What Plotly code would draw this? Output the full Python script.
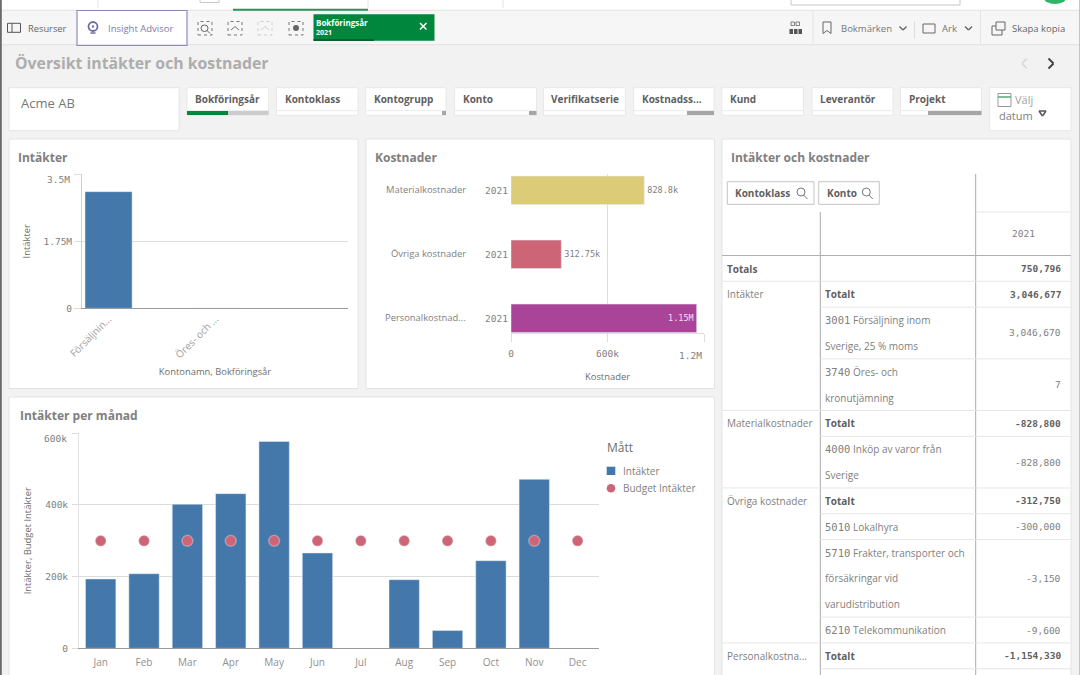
import plotly.graph_objects as go

# Chart values
income_accounts = ["Försäljnin...", "Öres- och ..."]
income_values = [3046670, 7]
income_ticks = [0, 1750000, 3500000]
income_tick_labels = ["0", "1.75M", "3.5M"]

cost_groups = ["Materialkostnader", "Övriga kostnader", "Personalkostnad..."]
cost_years = ["2021", "2021", "2021"]
cost_values = [828800, 312750, 1154330]
cost_labels = ["828.8k", "312.75k", "1.15M"]
cost_ticks = [0, 600000, 1200000]
cost_tick_labels = ["0", "600k", "1.2M"]

months = ["Jan", "Feb", "Mar", "Apr", "May", "Jun", "Jul", "Aug", "Sep", "Oct", "Nov", "Dec"]
month_income = [193500, 208000, 402000, 431500, 577000, 266000, None, 191500, 49500, 244500, 471500, None]
month_budget = [300000] * 12
month_ticks = [0, 200000, 400000, 600000]
month_tick_labels = ["0", "200k", "400k", "600k"]

# Pivot table rows: class, account text (one entry per wrapped line), value
table_class = ["Totals", "Intäkter", "", "", "Materialkostnader", "", "Övriga kostnader", "", "", "",
               "Personalkostna..."]
table_account = [[""], ["Totalt"], ["3001 Försäljning inom", "Sverige, 25 % moms"],
                 ["3740 Öres- och", "kronutjämning"], ["Totalt"],
                 ["4000 Inköp av varor från", "Sverige"], ["Totalt"], ["5010 Lokalhyra"],
                 ["5710 Frakter, transporter och", "försäkringar vid", "varudistribution"],
                 ["6210 Telekommunikation"], ["Totalt"]]
table_value = ["750,796", "3,046,677", "3,046,670", "7", "-828,800", "-828,800", "-312,750",
               "-300,000", "-3,150", "-9,600", "-1,154,330"]

filter_names = ["Bokföringsår", "Kontoklass", "Kontogrupp", "Konto", "Verifikatserie", "Kostnadss...",
                "Kund", "Leverantör", "Projekt"]

BLUE = "#4477aa"
PINK = "#cc6677"
cost_colors = ["#ddcc77", PINK, "#aa4499"]
GREEN = "#00873d"
SANS = "Open Sans"
MONO = "DejaVu Sans Mono"
TEXT = "#808080"
DARK = "#5f5f5f"
GRID = "#dcdcdc"


def X(x):
    return x / 1080


def Y(y):
    return 1 - y / 675


shapes = []
notes = []


def box(x0, y0, x1, y1, fill="white", line=None, width=1, kind="rect"):
    shapes.append(dict(type=kind, xref="paper", yref="paper", layer="below", x0=X(x0), x1=X(x1), y0=Y(y0), y1=Y(y1),
                       fillcolor=fill, line=dict(color=line, width=width if line else 0)))


def seg(x0, y0, x1, y1, color=GRID, width=1, dash="solid"):
    shapes.append(dict(type="line", xref="paper", yref="paper", layer="below", x0=X(x0), x1=X(x1), y0=Y(y0), y1=Y(y1),
                       line=dict(color=color, width=width, dash=dash)))


def poly(points, color=DARK, width=1.5):
    for a, b in zip(points, points[1:]):
        seg(a[0], a[1], b[0], b[1], color, width)


def label(x, y, s, size=10, color=TEXT, family=SANS, anchor="left", bold=False):
    # left aligned text lands about a pixel too far right otherwise
    x = x - 1 if anchor == "left" else x
    notes.append(dict(xref="paper", yref="paper", x=X(x), y=Y(y), text=f"<b>{s}</b>" if bold else s, showarrow=False,
                      xanchor=anchor, yanchor="middle", borderpad=0, font=dict(family=family, size=size, color=color)))


# Page chrome
box(0, 0, 1080, 10.3, line=None)
seg(0, 10.3, 1080, 10.3, "#d8d8d8")
box(2, 10.5, 1080, 44.7, "#f6f6f6")
seg(0, 44.7, 1080, 44.7, "#e2e2e2")
seg(233, 9.7, 368, 9.7, "#2f8f5b", 2)
for x in [98, 368, 503]:
    seg(x, 0, x, 8, "#e4e4e4")
box(200, -2, 219, 2.5, "white", "#c8c8c8")
box(791, -2, 960, 5, "white", "#c8c8c8")
box(1044, -8, 1066, 4, "#2fb567", kind="circle")
box(0, 0, 1.8, 675, "#6a6a6a")
seg(1079.5, 0, 1079.5, 675, "#c4c4c4")

# Toolbar left
box(7.5, 23.3, 20.5, 32.3, "#f6f6f6", "#555555")
seg(12, 23.3, 12, 32.3, "#555555")
label(28, 28.3, "Resurser", 9.3, "#666666")
box(77, 10.5, 187, 45.3, "white", "#8e8cbc", 1.2)
box(88.5, 22, 97.5, 31, "white", "#6f6da8", 1.8, kind="circle")
box(91.8, 25.3, 94.2, 27.7, "#6f6da8", kind="circle")
seg(90.5, 33, 95.5, 33, "#6f6da8", 1.5)
label(108, 28.3, "Insight Advisor", 9.5, "#7d7bab")
for x, c in [(205, "#777777"), (235, "#777777"), (265, "#cfcfcf"), (296, "#777777")]:
    shapes.append(dict(type="rect", xref="paper", yref="paper", layer="below", x0=X(x - 7), x1=X(x + 7), y0=Y(35),
                       y1=Y(21.5), line=dict(color=c, width=1, dash="3px,3px")))
box(201, 25, 208, 31.5, "#f6f6f6", "#666666", 1, kind="circle")
poly([(207, 30.5), (210, 33.5)], "#666666", 1)
poly([(231, 30), (235, 26.5), (239, 30)], "#777777", 1)
poly([(261, 30), (265, 26.5), (269, 30)], "#cfcfcf", 1)
box(293, 25, 299, 31, "#666666", kind="circle")

# Current selection chip
box(313.5, 14.3, 434.5, 40.7, GREEN)
seg(313.5, 40, 374, 40, "#0d5f30", 2)
label(316, 22.7, "Bokföringsår", 8, "white", bold=True)
label(316, 32, "2021", 7, "white", bold=True)
poly([(420, 23), (426.5, 29.5)], "white", 1.5)
poly([(426.5, 23), (420, 29.5)], "white", 1.5)

# Toolbar right
seg(813, 10.5, 813, 44.7, "#e4e4e4")
seg(914.5, 21, 914.5, 39, "#dddddd")
seg(980.5, 10.5, 980.5, 44.7, "#e4e4e4")
for x in [791, 796]:
    box(x, 22, x + 3.5, 25.5, "#f6f6f6", "#666666", 0.8)
for x in [789.5, 794, 798.5]:
    box(x, 29, x + 3.5, 34, "#555555")
poly([(823, 22), (823, 33.5), (827, 30.5), (831, 33.5), (831, 22), (823, 22)], "#666666", 1)
label(841, 28.3, "Bokmärken", 9.5, "#777777")
poly([(899.5, 26.5), (903, 30), (906.5, 26.5)], "#666666", 1.4)
box(923, 24, 935, 33, "#f6f6f6", "#666666")
label(942, 28.3, "Ark", 9.5, "#777777")
poly([(965, 26.5), (968.5, 30), (972, 26.5)], "#666666", 1.4)
box(992, 26, 1002, 35, "#f6f6f6", "#666666")
box(996, 22, 1005, 30, "#f6f6f6", "#666666")
label(1012, 28.3, "Skapa kopia", 9.5, "#666666")

# Sheet title and arrows
label(15, 63.3, "Översikt intäkter och kostnader", 15.8, "#adadad", bold=True)
poly([(1027, 58.5), (1022, 63.5), (1027, 68.5)], "#d8d8d8", 1.6)
poly([(1048.5, 58.5), (1053.5, 63.5), (1048.5, 68.5)], "#444444", 2)

# Filter row
box(9, 87.7, 179, 130.7, "white", "#e4e4e4")
label(21, 103.3, "Acme AB", 13, "#777777")
filter_left = [187, 276.5, 365.7, 454.5, 543.4, 633.7, 721.8, 812, 900.5]
filter_right = [268.6, 358, 446, 536.5, 625.4, 714, 803.4, 893, 981.5]
filter_grey = [187, 358, 442, 529, 625.4, 687, 803.4, 893, 928]
for name, left, right, grey in zip(filter_names, filter_left, filter_right, filter_grey):
    box(left, 87.7, right, 115.3, "white", "#e8e8e8")
    seg(left, 110.7, right, 110.7, "#ececec")
    label(left + 8, 99, name, 10, DARK, bold=True)
    if grey < right:
        box(grey, 111, right, 115, "#a6a6a6" if name != "Bokföringsår" else "#cccccc")
box(187, 111, 228, 115, GREEN)
box(989.7, 87.7, 1071, 130.7, "white", "#e8e8e8")
box(998, 93.5, 1011, 106.5, "white", "#999999")
seg(998, 97, 1011, 97, "#5aa47c", 1.5)
label(1014.5, 99.3, "Välj", 11, "#a0a0a0")
label(998.5, 115.7, "datum", 11, TEXT)
poly([(1039, 111), (1046, 111), (1042.5, 116), (1039, 111)], "#555555", 1.5)

# Object cards
box(9, 139, 358, 388.5, "white", "#e4e4e4")
box(366, 139, 714.5, 388.5, "white", "#e4e4e4")
box(722, 139, 1071, 690, "white", "#e4e4e4")
box(9, 397, 714.5, 700, "white", "#e4e4e4")
label(18, 157, "Intäkter", 12, TEXT, bold=True)
label(375, 157, "Kostnader", 12, TEXT, bold=True)
label(731, 157, "Intäkter och kostnader", 12, TEXT, bold=True)
label(19.5, 415.5, "Intäkter per månad", 12, TEXT, bold=True)

# Pivot table
COL1, COL2 = 820.3, 975.7
TABLE_LINE = "#a9a9a9"
seg(COL1, 212, COL1, 675, TABLE_LINE)
seg(COL2, 174, COL2, 675, TABLE_LINE)
seg(COL2, 212, 1071, 212, "#e6e6e6")
seg(722, 255.5, 1071, 255.5, "#b0b0b0")
label(1023, 233.7, "2021", 9.5, TEXT, MONO, "center")
for left, right, name in [(727.3, 814, "Kontoklass"), (818.7, 879.3, "Konto")]:
    box(left, 181.7, right, 204.3, "white", "#c4c4c4", 1)
    label(left + 8, 193, name, 10, DARK, bold=True)
    box(right - 17, 188, right - 9, 196, "white", "#777777", 1, kind="circle")
    poly([(right - 10.5, 195), (right - 6.5, 199)], "#777777", 1)

y_top = 255.5
for cls, lines, value in zip(table_class, table_account, table_value):
    height = 25.83 * len(lines)
    y_bottom = y_top + height
    bold_row = cls == "Totals" or lines[0] == "Totalt"
    if cls:
        label(727, y_top + 13, cls, 10, DARK if cls == "Totals" else TEXT, bold=cls == "Totals")
    for n, text in enumerate(lines):
        y_text = y_top + 13 + 25.83 * n
        number, _, rest = text.partition(" ")
        if number.isdigit():
            label(825, y_text, number, 10.5, TEXT, MONO)
            label(853, y_text, rest, 10, TEXT)
        elif text:
            label(825, y_text, text, 10, DARK if text == "Totalt" else TEXT, bold=text == "Totalt")
    label(1062, y_top + height / 2, value, 9.5, DARK if bold_row else TEXT, MONO, "right", bold_row)
    y_top = y_bottom
    seg(820.3, y_bottom, 1071, y_bottom, "#e6e6e6")
# class rows get a rule across the first column too
for y in [281.3, 410.4, 487.9, 642.9]:
    seg(722, y, 820, y, "#e6e6e6")

# Legend is drawn by hand: the built-in one can't put the text this close to the swatches
label(607, 447, "Mått", 12, "#6e6e6e")
box(606.7, 466.7, 615.3, 475, BLUE)
label(622.5, 470.7, "Intäkter", 10, TEXT)
box(606.7, 484, 615.3, 492.6, PINK, kind="circle")
label(622.5, 488.3, "Budget Intäkter", 10, TEXT)

fig = go.Figure()

# Intäkter
fig.add_trace(go.Bar(x=income_accounts, y=income_values, marker_color=BLUE, width=0.44, xaxis="x", yaxis="y"))
# Kostnader
fig.add_trace(go.Bar(x=cost_values, y=cost_groups, orientation="h", marker_color=cost_colors, width=0.445,
                     text=cost_labels, textposition=["outside", "outside", "inside"], insidetextanchor="end",
                     textfont=dict(family=MONO, size=8.5, color=[TEXT, TEXT, "#f6dff0"]), cliponaxis=False,
                     xaxis="x2", yaxis="y2"))
# Intäkter per månad
fig.add_trace(go.Bar(x=months, y=month_income, name="Intäkter", marker_color=BLUE, width=0.7, xaxis="x3", yaxis="y3"))
fig.add_trace(go.Scatter(x=months, y=month_budget, name="Budget Intäkter", mode="markers", xaxis="x3", yaxis="y3",
                         marker=dict(color=PINK, size=11, line=dict(color="rgba(255,255,255,0.3)", width=1.5))))

# Tick labels on the top gridline sit just below it in the original, so those go in as annotations
notes.append(dict(xref="paper", yref="y", x=X(71.5), y=income_ticks[-1], yshift=-5, text=income_tick_labels[-1],
                  showarrow=False, xanchor="right", font=dict(family=MONO, size=9.5, color=TEXT)))
notes.append(dict(xref="paper", yref="y3", x=X(68.5), y=month_ticks[-1], yshift=-5, text=month_tick_labels[-1],
                  showarrow=False, xanchor="right", font=dict(family=MONO, size=9.5, color=TEXT)))
notes.append(dict(xref="x2", yref="paper", x=cost_ticks[-1], y=Y(355), text=cost_tick_labels[-1], showarrow=False,
                  xanchor="right", yanchor="middle", font=dict(family=MONO, size=9.5, color=TEXT)))
for group in cost_groups:
    notes.append(dict(xref="paper", yref="y2", x=X(467.5), y=group, yshift=1, text=group, showarrow=False,
                      xanchor="right", font=dict(family=SANS, size=9.4, color=TEXT)))

tick_font = dict(family=MONO, size=9.5, color=TEXT)
title_font = dict(family=SANS, size=9.4, color="#6e6e6e")

fig.update_layout(
    width=1080, height=675, margin=dict(l=0, r=0, t=0, b=0), paper_bgcolor="#f2f2f2", plot_bgcolor="rgba(0,0,0,0)",
    bargap=0.3, shapes=shapes, annotations=notes, showlegend=False,
    font=dict(family=SANS, size=10, color=TEXT),
    xaxis=dict(domain=[X(82), X(348)], range=[-0.248, 2.238], type="category", categoryorder="array",
               categoryarray=income_accounts, tickangle=-45, tickfont=dict(family=SANS, size=10, color="#a0a0a0"),
               ticks="", showgrid=False, showline=True, linecolor="#9a9a9a", zeroline=False, automargin=False,
               title=dict(text="Kontonamn, Bokföringsår", font=title_font, standoff=8)),
    yaxis=dict(domain=[Y(308.3), Y(174.3)], range=[0, 3500000], tickvals=income_ticks,
               ticktext=income_tick_labels[:-1] + [""], tickfont=tick_font, ticks="outside", ticklen=7,
               tickcolor=GRID, gridcolor=GRID, showline=True, linecolor="#cfcfcf", zeroline=False, automargin=False,
               title=dict(text="Intäkter", font=title_font, standoff=11)),
    xaxis2=dict(domain=[X(511), X(704)], range=[0, 1200000], tickvals=cost_ticks,
                ticktext=cost_tick_labels[:-1] + [""], tickfont=tick_font, ticks="outside", ticklen=8,
                ticklabelstandoff=3, tickcolor=GRID, gridcolor=GRID, showline=True, linecolor=GRID, zeroline=False,
                anchor="y2", automargin=False, title=dict(text="Kostnader", font=title_font, standoff=15)),
    yaxis2=dict(domain=[Y(333.3), Y(174)], range=[2.234, -0.255], type="category", categoryorder="array",
                categoryarray=cost_groups, tickvals=cost_groups, ticktext=cost_years, tickfont=tick_font, ticks="",
                ticklabelstandoff=2, showgrid=False, showline=False, zeroline=False, anchor="x2", automargin=False),
    xaxis3=dict(domain=[X(79), X(599.3)], range=[-0.5, 11.5], type="category", categoryorder="array",
                categoryarray=months, tickangle=0, tickfont=dict(family=SANS, size=10, color="#909090"), ticks="",
                ticklabelstandoff=5, showgrid=False, showline=True, linecolor="#9a9a9a", zeroline=False, anchor="y3",
                automargin=False),
    yaxis3=dict(domain=[Y(648.3), Y(433.3)], range=[0, 600000], tickvals=month_ticks,
                ticktext=month_tick_labels[:-1] + [""], tickfont=tick_font, ticks="outside", ticklen=6,
                ticklabelstandoff=2, tickcolor=GRID, gridcolor=GRID, showline=True, linecolor="#e2e2e2",
                zeroline=False, anchor="x3", automargin=False,
                title=dict(text="Intäkter, Budget Intäkter", font=title_font, standoff=11)),
)

fig.write_html("out.html", config={"displayModeBar": False}, post_script="document.body.style.margin='0';")
